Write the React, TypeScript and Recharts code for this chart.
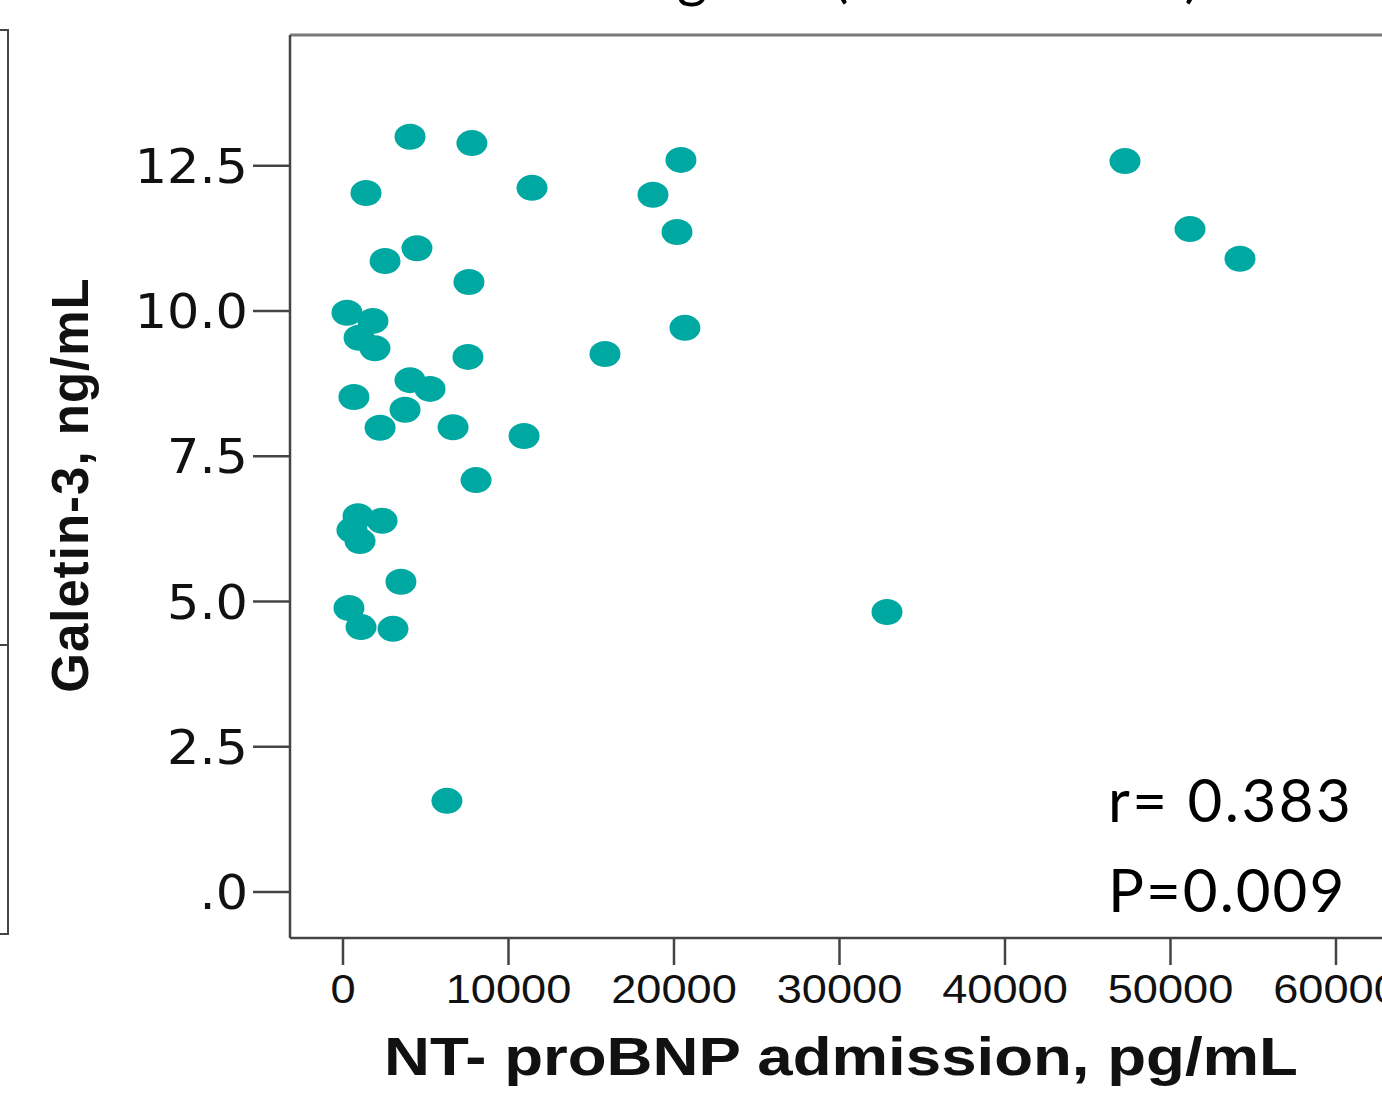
import React from "react";
import { ScatterChart, Scatter, XAxis, YAxis, ReferenceLine } from "recharts";

const ntProBnp = [
  4050, 7790, 20420, 47250, 1390, 11420, 18730, 20180, 51180, 54200,
  4470, 2540, 7610, 240, 1810, 970, 1930, 20660, 15830, 7550,
  4050, 5260, 660, 3750, 2240, 6650, 10940, 8040, 910, 2360,
  540, 1030, 3500, 360, 1090, 3020, 32870, 6280,
];
const galectin3 = [
  13.0, 12.89, 12.6, 12.58, 12.03, 12.12, 12.0, 11.36, 11.41, 10.9,
  11.08, 10.86, 10.5, 9.97, 9.83, 9.54, 9.36, 9.71, 9.26, 9.21,
  8.81, 8.66, 8.52, 8.3, 7.99, 8.0, 7.85, 7.09, 6.47, 6.39,
  6.23, 6.04, 5.34, 4.89, 4.56, 4.53, 4.82, 1.57,
];
const xTicks = [0, 10000, 20000, 30000, 40000, 50000, 60000];
const yTicks = [0, 2.5, 5, 7.5, 10, 12.5];
const X_DOMAIN: [number, number] = [-3202, 62780];
const Y_DOMAIN: [number, number] = [-0.79, 14.75];

const data = ntProBnp.map((x, i) => ({ x, y: galectin3[i] }));

const TEAL = "#00a8a2";
const AXIS = "#444";

const Dot = (props: any) => {
  const { cx, cy } = props;
  if (cx == null || cy == null) return null;
  return <ellipse cx={cx} cy={cy} rx={15.5} ry={13} fill={TEAL} />;
};

const fmtY = (v: number) => (v === 0 ? ".0" : v.toFixed(1));

const XTick = (props: any) => {
  const { x, y, payload } = props;
  return (
    <g transform={`translate(${x},${y})`}>
      <text
        transform="scale(1.13,1)"
        textAnchor="middle"
        dy="0.71em"
        fill="#111"
        fontSize={40}
        fontFamily="Liberation Sans, Arial, sans-serif"
      >
        {payload.value}
      </text>
    </g>
  );
};

const YTick = (props: any) => {
  const { x, y, payload } = props;
  return (
    <g transform={`translate(${x},${y})`}>
      <text
        transform="scale(1.06,1)"
        textAnchor="end"
        dy="0.355em"
        fill="#111"
        fontSize={48}
        fontFamily="DejaVu Sans, sans-serif"
      >
        {fmtY(payload.value)}
      </text>
    </g>
  );
};

export default function App() {
  return (
    <div
      style={{
        position: "absolute",
        left: 0,
        top: 0,
        width: 1382,
        height: 1116,
        overflow: "hidden",
        background: "#fff",
      }}
    >
      <ScatterChart
        width={1382}
        height={1116}
        margin={{ top: 35, right: 0, bottom: 98, left: 140 }}
      >
        <XAxis
          type="number"
          dataKey="x"
          domain={X_DOMAIN}
          allowDataOverflow
          ticks={xTicks}
          interval={0}
          height={80}
          tickSize={27}
          tickMargin={10}
          axisLine={{ stroke: AXIS, strokeWidth: 2.5 }}
          tickLine={{ stroke: AXIS, strokeWidth: 2.5 }}
          tick={XTick}
        />
        <YAxis
          type="number"
          dataKey="y"
          domain={Y_DOMAIN}
          allowDataOverflow
          ticks={yTicks}
          interval={0}
          width={150}
          tickSize={37}
          tickMargin={5}
          axisLine={{ stroke: AXIS, strokeWidth: 2.5 }}
          tickLine={{ stroke: AXIS, strokeWidth: 2.5 }}
          tick={YTick}
        />
        <ReferenceLine y={Y_DOMAIN[1]} stroke="#7a7a7a" strokeWidth={3} />
        <Scatter data={data} shape={Dot} isAnimationActive={false} />
      </ScatterChart>
      <svg
        width={1382}
        height={1116}
        style={{ position: "absolute", left: 0, top: 0, pointerEvents: "none" }}
      >
        <polyline
          points="0,30 8,30 8,934 0,934"
          fill="none"
          stroke={AXIS}
          strokeWidth={2}
        />
        <line x1={0} y1={645} x2={8} y2={645} stroke={AXIS} strokeWidth={2} />
        <text
          x={805}
          y={-4}
          textAnchor="end"
          fontSize={58}
          fontFamily="Lato, sans-serif"
          fill="#000"
        >
          Relation to gal-3
        </text>
        <text
          x={833}
          y={-4}
          textAnchor="start"
          fontSize={58}
          fontFamily="Lato, sans-serif"
          fill="#000"
        >
          (whole cohort)
        </text>
        <text
          transform="translate(841,1075) scale(1.2,1)"
          textAnchor="middle"
          fontSize={53}
          fontWeight="bold"
          fontFamily="Liberation Sans, Arial, sans-serif"
          fill="#111"
        >
          NT- proBNP admission, pg/mL
        </text>
        <text
          transform="translate(88,485) rotate(-90)"
          textAnchor="middle"
          fontSize={51}
          fontWeight="bold"
          fontFamily="Liberation Sans, Arial, sans-serif"
          letterSpacing={1}
          fill="#111"
        >
          Galetin-3, ng/mL
        </text>
        <text
          x={1108}
          y={822}
          fontSize={60}
          fontFamily="Lato, sans-serif"
          letterSpacing={2.5}
          fill="#000"
        >
          r= 0.383
        </text>
        <text
          x={1108}
          y={912}
          fontSize={60}
          fontFamily="Lato, sans-serif"
          letterSpacing={2}
          fill="#000"
        >
          P=0.009
        </text>
      </svg>
    </div>
  );
}
